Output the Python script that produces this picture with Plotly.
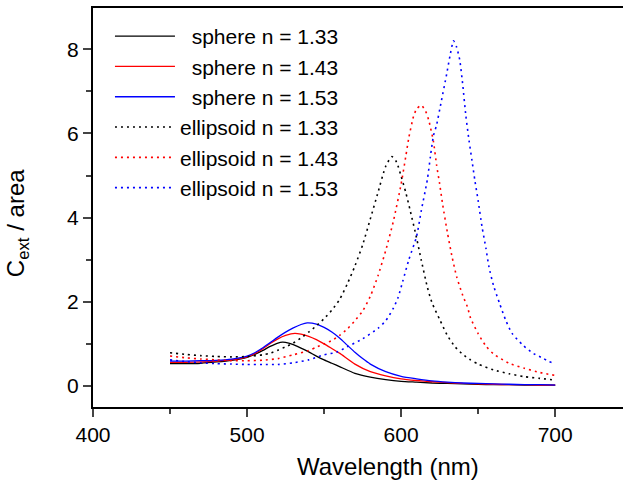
import plotly.graph_objects as go

# ---------------- data ----------------
sphere133_x = [450, 460, 470, 480, 490, 500, 505, 510, 515, 520, 523, 527, 530, 535, 540, 545, 550, 555, 560,
               570, 580, 590, 600, 610, 620, 630, 640, 650, 660, 670, 680, 690, 700]
sphere133_y = [0.53, 0.53, 0.54, 0.57, 0.61, 0.68, 0.75, 0.84, 0.94, 1.02, 1.04, 1.02, 0.98, 0.90, 0.81, 0.71,
               0.62, 0.54, 0.46, 0.30, 0.21, 0.15, 0.11, 0.09, 0.07, 0.06, 0.05, 0.04, 0.03, 0.03, 0.02, 0.02, 0.02]

sphere143_x = [450, 460, 470, 480, 490, 500, 505, 510, 515, 520, 525, 531, 535, 540, 545, 550, 555, 560,
               570, 580, 590, 600, 610, 620, 630, 640, 650, 660, 670, 680, 690, 700]
sphere143_y = [0.56, 0.56, 0.57, 0.59, 0.62, 0.69, 0.77, 0.88, 1.01, 1.12, 1.20, 1.25, 1.23, 1.18, 1.10, 1.00,
               0.89, 0.78, 0.52, 0.34, 0.24, 0.17, 0.13, 0.10, 0.08, 0.06, 0.05, 0.04, 0.03, 0.03, 0.02, 0.02]

sphere153_x = [450, 460, 470, 480, 490, 500, 505, 510, 515, 520, 525, 530, 535, 539, 545, 550, 555, 560,
               565, 570, 575, 580, 590, 600, 610, 620, 630, 640, 650, 660, 670, 680, 690, 700]
sphere153_y = [0.59, 0.59, 0.60, 0.61, 0.64, 0.71, 0.79, 0.90, 1.03, 1.16, 1.28, 1.38, 1.46, 1.50, 1.47, 1.39,
               1.28, 1.14, 0.97, 0.80, 0.65, 0.52, 0.34, 0.23, 0.17, 0.12, 0.09, 0.07, 0.06, 0.05, 0.04, 0.03,
               0.03, 0.02]

ell133_x = [450, 460, 470, 480, 490, 500, 510, 515, 520, 525, 530, 535, 540, 545, 550, 555, 560, 565, 570,
            575, 580, 585, 590, 594, 597, 600, 603, 606, 610, 613, 617, 620, 625, 630, 635, 640, 645, 650,
            660, 670, 680, 690, 700]
ell133_y = [0.79, 0.75, 0.72, 0.70, 0.69, 0.70, 0.74, 0.78, 0.85, 0.93, 1.02, 1.14, 1.28, 1.43, 1.60, 1.80,
            2.05, 2.42, 2.85, 3.35, 3.97, 4.60, 5.22, 5.45, 5.32, 4.98, 4.60, 4.15, 3.52, 3.00, 2.35, 1.98,
            1.58, 1.20, 0.93, 0.75, 0.62, 0.52, 0.38, 0.29, 0.22, 0.18, 0.14]

ell143_x = [450, 460, 470, 480, 490, 500, 510, 520, 530, 540, 545, 550, 555, 560, 565, 570, 575, 580, 585,
            590, 595, 600, 603, 605, 608, 610, 613, 616, 618, 621, 623, 625, 627, 630, 633, 636, 640, 643,
            645, 650, 655, 660, 670, 680, 690, 700]
ell143_y = [0.71, 0.67, 0.64, 0.62, 0.60, 0.60, 0.61, 0.65, 0.74, 0.84, 0.92, 1.00, 1.08, 1.20, 1.35, 1.55,
            1.78, 2.13, 2.62, 3.22, 3.92, 4.80, 5.45, 5.90, 6.40, 6.58, 6.67, 6.52, 6.30, 5.80, 5.25, 4.80,
            4.30, 3.65, 3.08, 2.60, 2.15, 1.88, 1.62, 1.24, 0.95, 0.76, 0.54, 0.42, 0.32, 0.25]

ell153_x = [450, 460, 470, 480, 490, 500, 510, 520, 530, 540, 550, 558, 565, 575, 585, 590, 595, 598, 601,
            605, 610, 613, 617, 619, 621, 623, 626, 629.5, 632, 634, 636, 638, 640, 642, 644, 646, 648, 650,
            652.5, 655, 657, 660, 664, 668, 672, 679, 686, 692, 696, 700]
ell153_y = [0.62, 0.58, 0.55, 0.53, 0.52, 0.51, 0.51, 0.51, 0.55, 0.62, 0.74, 0.80, 0.93, 1.12, 1.37, 1.55,
            1.85, 2.10, 2.48, 3.00, 3.55, 4.15, 4.90, 5.45, 5.95, 6.20, 6.75, 7.40, 7.90, 8.20, 8.05, 7.75,
            7.15, 6.42, 5.85, 5.35, 4.85, 4.40, 3.78, 3.28, 2.83, 2.38, 1.95, 1.55, 1.25, 0.97, 0.77, 0.66,
            0.58, 0.53]

NB = "\u00a0"
labels = [NB * 2 + "sphere n = 1.33", NB * 2 + "sphere n = 1.43", NB * 2 + "sphere n = 1.53",
          "ellipsoid n = 1.33", "ellipsoid n = 1.43", "ellipsoid n = 1.53"]

x_ticks = [400, 500, 600, 700]
y_ticks = [0, 2, 4, 6, 8]

FONT = "Liberation Sans, Arial, Helvetica, sans-serif"

series = [
    (sphere133_x, sphere133_y, "#000000", "solid", 1.3),
    (sphere143_x, sphere143_y, "#ff0000", "solid", 1.3),
    (sphere153_x, sphere153_y, "#0000ff", "solid", 1.3),
    (ell133_x, ell133_y, "#000000", "2px,4px", 1.6),
    (ell143_x, ell143_y, "#ff0000", "2px,4px", 1.6),
    (ell153_x, ell153_y, "#0000ff", "2px,4px", 1.6),
]

fig = go.Figure()
for (xs, ys, col, dash, w), name in zip(series, labels):
    fig.add_trace(go.Scatter(x=xs, y=ys, mode="lines", name=name,
                             line=dict(color=col, width=w, dash=dash, shape="spline", smoothing=0.6)))

fig.update_layout(
    width=623, height=482,
    margin=dict(l=93, r=0, t=8, b=75),
    paper_bgcolor="white", plot_bgcolor="white",
    font=dict(family=FONT, color="black"),
    showlegend=True,
    legend=dict(x=0.032, y=0.98, xanchor="left", yanchor="top",
                bgcolor="rgba(0,0,0,0)", font=dict(size=21, family=FONT),
                tracegroupgap=0, itemwidth=60),
    xaxis=dict(range=[400, 744], tickvals=x_ticks, ticks="outside", ticklen=8, tickwidth=1.5,
               showline=True, linewidth=2, linecolor="black", mirror=True, showgrid=False, zeroline=False,
               tickfont=dict(size=21, family=FONT),
               minor=dict(dtick=50, ticks="outside", ticklen=5, tickwidth=1.5, tick0=400)),
    yaxis=dict(range=[-0.5, 8.98], tickvals=y_ticks, ticks="outside", ticklen=8, tickwidth=1.5,
               showline=True, linewidth=2, linecolor="black", showgrid=False, zeroline=False,
               tickfont=dict(size=21, family=FONT),
               minor=dict(dtick=1, ticks="outside", ticklen=5, tickwidth=1.5, tick0=0)),
)

fig.add_annotation(text="Wavelength (nm)", xref="paper", yref="paper", x=0.5566, y=-0.148,
                   xanchor="center", yanchor="middle", showarrow=False, font=dict(size=24, family=FONT))
fig.add_annotation(text="C<sub>ext</sub> / area", xref="paper", yref="paper", x=-0.142, y=0.46,
                   xanchor="center", yanchor="middle", textangle=-90, showarrow=False,
                   font=dict(size=24, family=FONT))

fig.write_html("out.html", config={"displayModeBar": False},
               post_script="document.body.style.margin='0';")
